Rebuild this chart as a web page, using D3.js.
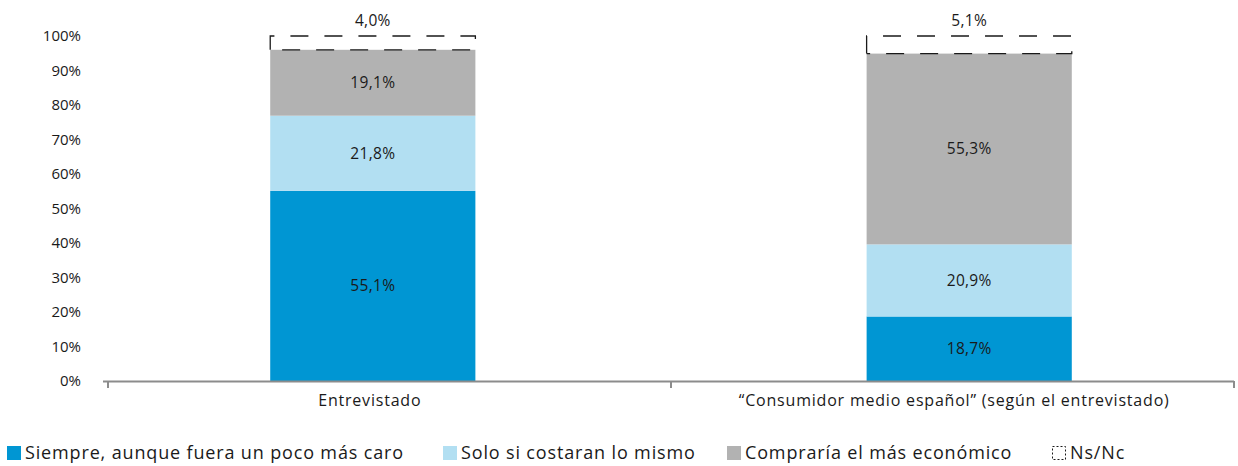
<!DOCTYPE html>
<html><head><meta charset="utf-8">
<script src="https://cdn.jsdelivr.net/npm/d3@7"></script>
<style>
body{margin:0;background:#fff;}
svg{display:block;font-family:"Open Sans",sans-serif;}
</style></head>
<body><svg id="c" width="1238" height="466"></svg>
<script>
const categories = ["Entrevistado", "\u201cConsumidor medio español\u201d (según el entrevistado)"];
const seriesNames = ["Siempre, aunque fuera un poco más caro", "Solo si costaran lo mismo", "Compraría el más económico", "Ns/Nc"];
const siempre = [55.1, 18.7];
const solo = [21.8, 20.9];
const compraria = [19.1, 55.3];
const nsnc = [4.0, 5.1];
const yTicks = [0,10,20,30,40,50,60,70,80,90,100];

const colors = ["#0096d3", "#b2dff2", "#b2b2b2", "none"];
const seriesValues = [siempre, solo, compraria, nsnc];

const svg = d3.select("#c");
const x = d3.scaleBand().domain(categories).range([108, 1234]).paddingInner(0.656).paddingOuter(0.272);
const y = d3.scaleLinear().domain([0, 100]).range([381, 36]);
const fmt = v => v.toFixed(1).replace(".", ",") + "%";

// y tick labels
svg.append("g").selectAll("text").data(yTicks).join("text")
  .attr("x", 81).attr("y", d => y(d)).attr("dy", "0.35em")
  .attr("text-anchor", "end").attr("font-size", 15).attr("fill", "#1a1a1a")
  .text(d => d + "%");

// stacks
const rows = categories.map((c, i) => {
  const o = {cat: c};
  seriesNames.forEach((s, k) => o[s] = seriesValues[k][i]);
  return o;
});
const stacked = d3.stack().keys(seriesNames)(rows);

stacked.forEach((layer, k) => {
  const g = svg.append("g");
  layer.forEach(seg => {
    const cat = seg.data.cat;
    const x0 = x(cat), w = x.bandwidth();
    const yt = y(seg[1]), yb = y(seg[0]);
    if (k < 3) {
      g.append("rect").attr("x", x0).attr("y", yt).attr("width", w).attr("height", yb - yt)
        .attr("fill", colors[k]);
      g.append("text").attr("x", x0 + w / 2).attr("y", (yt + yb) / 2).attr("dy", "0.35em")
        .attr("text-anchor", "middle").attr("font-size", 15.5).attr("fill", "#1a1a1a")
        .attr("letter-spacing", "0.3px")
        .text(fmt(seg[1] - seg[0]));
    } else {
      g.append("path")
        .attr("d", `M${x0},${yb} V${yt} H${x0 + w} V${yb} H${x0}`)
        .attr("fill", "none").attr("stroke", "#1a1a1a").attr("stroke-width", 1.3)
        .attr("stroke-dasharray", "18,16");
      g.append("text").attr("x", x0 + w / 2).attr("y", yt - 15).attr("dy", "0.35em")
        .attr("text-anchor", "middle").attr("font-size", 15.5).attr("fill", "#1a1a1a")
        .attr("letter-spacing", "0.3px")
        .text(fmt(seg[1] - seg[0]));
    }
  });
});

// x axis line and ticks
const [r0, r1] = x.range();
const axis = svg.append("g").attr("stroke", "#8c8c8c").attr("stroke-width", 2);
axis.append("line").attr("x1", r0 - 5).attr("x2", r1).attr("y1", y(0) + 0.5).attr("y2", y(0) + 0.5);
const bounds = [r0, (r0 + r1) / 2, r1];
axis.selectAll(".t").data(bounds).join("line")
  .attr("x1", d => d).attr("x2", d => d).attr("y1", y(0)).attr("y2", y(0) + 7);

// category labels
svg.append("g").selectAll("text").data(categories).join("text")
  .attr("x", (d, i) => x(d) + x.bandwidth() / 2 + (i === 0 ? -3 : -15))
  .attr("y", 400).attr("dy", "0.35em").attr("text-anchor", "middle")
  .attr("font-size", 16).attr("letter-spacing", "0.8px")
  .attr("fill", "#1a1a1a").text(d => d);

// legend
const legendX = [7, 443, 727, 1052];
const lg = svg.append("g");
seriesNames.forEach((s, k) => {
  const gx = legendX[k];
  if (k < 3) {
    lg.append("rect").attr("x", gx).attr("y", 446).attr("width", 14).attr("height", 14).attr("fill", colors[k]);
  } else {
    lg.append("rect").attr("x", gx + 0.5).attr("y", 446.5).attr("width", 13).attr("height", 13)
      .attr("fill", "none").attr("stroke", "#1a1a1a").attr("stroke-width", 1).attr("stroke-dasharray", "2,2");
  }
  lg.append("text").attr("x", gx + 18).attr("y", 453).attr("dy", "0.36em")
    .attr("font-size", 18).attr("letter-spacing", "0.85px")
    .attr("fill", "#1a1a1a").text(s);
});
</script>
</body></html>
